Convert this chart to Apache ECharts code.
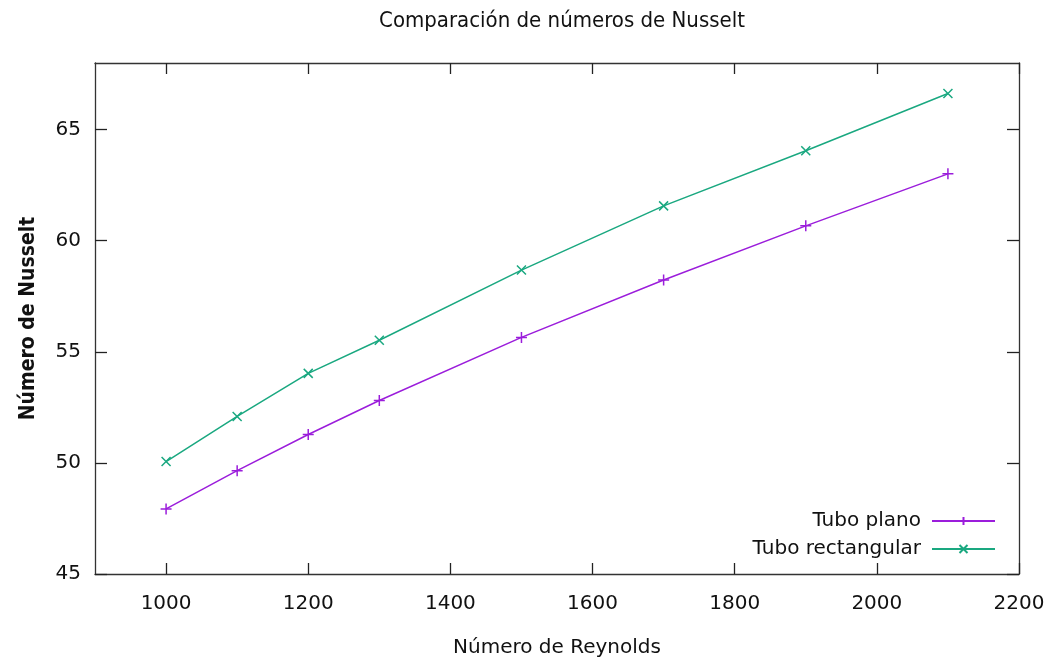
<!DOCTYPE html>
<html>
<head>
<meta charset="utf-8">
<script src="https://cdn.jsdelivr.net/npm/echarts@6/dist/echarts.min.js"></script>
<style>html,body{margin:0;padding:0;background:#fff}#c{width:1053px;height:663px}</style>
</head>
<body>
<div id="c"></div>
<script>
const reynolds = [1000, 1100, 1200, 1300, 1500, 1700, 1900, 2100];
const tuboPlano = [47.93, 49.65, 51.28, 52.81, 55.65, 58.23, 60.67, 63.01];
const tuboRectangular = [50.06, 52.09, 54.03, 55.52, 58.68, 61.57, 64.05, 66.63];
const xTicks = [1000, 1200, 1400, 1600, 1800, 2000, 2200];
const yTicks = [45, 50, 55, 60, 65];

const FONT = 'DejaVu Sans';
const purple = '#9b1ddb';
const green = '#1aa880';
const plusPath = 'path://M5,0 L5,10 M0,5 L10,5';
const crossPath = 'path://M0,0 L10,10 M10,0 L0,10';

const chart = echarts.init(document.getElementById('c'));
const axisLineStyle = { color: '#333', width: 1.3 };
const baseX = {
  type: 'value', min: 900, max: 2200,
  axisLine: { show: true, onZero: false, lineStyle: axisLineStyle },
  axisTick: { show: true, inside: true, length: 11, lineStyle: { color: '#222', width: 1.3 }, customValues: xTicks },
  splitLine: { show: false }
};
const baseY = {
  type: 'value', min: 45, max: 68,
  axisLine: { show: true, onZero: false, lineStyle: axisLineStyle },
  axisTick: { show: true, inside: true, length: 12, lineStyle: { color: '#222', width: 1.3 }, customValues: yTicks },
  splitLine: { show: false }
};
chart.setOption({
  animation: false,
  title: {
    text: 'Comparación de números de Nusselt',
    left: 557, top: 5, textAlign: 'center',
    textStyle: { fontFamily: 'DejaVu Sans Condensed', fontWeight: 'normal', fontSize: 22, color: '#111' }
  },
  grid: { left: 95, right: 34, top: 63, bottom: 89 },
  legend: {
    orient: 'vertical', right: 52, top: 506, align: 'right',
    itemWidth: 63, itemHeight: 10, itemGap: 8,
    textStyle: { fontFamily: FONT, fontSize: 20, color: '#111', padding: [0, 6, 0, 0] },
    data: ['Tubo plano', 'Tubo rectangular']
  },
  xAxis: [
    Object.assign({}, baseX, {
      position: 'bottom',
      name: 'Número de Reynolds', nameLocation: 'middle', nameGap: 64,
      nameTextStyle: { fontFamily: FONT, fontSize: 20, color: '#111' },
      axisLabel: { fontFamily: FONT, fontSize: 20, color: '#111', margin: 20, customValues: xTicks, formatter: v => String(v) }
    }),
    Object.assign({}, baseX, { position: 'top', axisLabel: { show: false } })
  ],
  yAxis: [
    Object.assign({}, baseY, {
      position: 'left',
      name: 'Número de Nusselt', nameLocation: 'middle', nameGap: 56,
      nameTextStyle: { fontFamily: 'DejaVu Sans Condensed', fontSize: 21, fontWeight: 'bold', color: '#111' },
      axisLabel: { fontFamily: FONT, fontSize: 20, color: '#111', margin: 14, customValues: yTicks, formatter: v => String(v) }
    }),
    Object.assign({}, baseY, { position: 'right', axisLabel: { show: false } })
  ],
  series: [
    {
      name: 'Tubo plano', type: 'line',
      data: reynolds.map((r, i) => [r, tuboPlano[i]]),
      symbol: plusPath, symbolSize: 11, showSymbol: true,
      lineStyle: { color: purple, width: 1.5 },
      itemStyle: { color: purple, borderColor: purple, borderWidth: 1.5 }
    },
    {
      name: 'Tubo rectangular', type: 'line',
      data: reynolds.map((r, i) => [r, tuboRectangular[i]]),
      symbol: crossPath, symbolSize: 9, showSymbol: true,
      lineStyle: { color: green, width: 1.5 },
      itemStyle: { color: green, borderColor: green, borderWidth: 1.5 }
    }
  ]
});
</script>
</body>
</html>
